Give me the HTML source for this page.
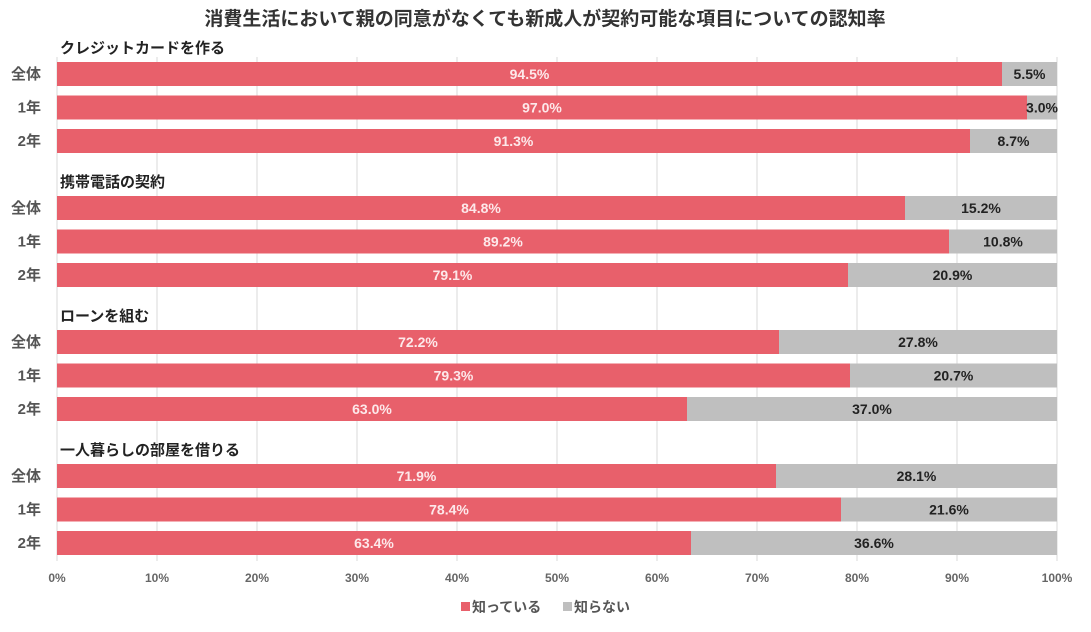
<!DOCTYPE html>
<html><head><meta charset="utf-8"><style>
body{margin:0;background:#fff;}
svg{display:block;font-family:"Liberation Sans","Noto Sans CJK JP",sans-serif;}
</style></head><body>
<svg id="c" width="1091" height="632">
<text x="545" y="25" text-anchor="middle" font-size="19" font-weight="bold" fill="#333">消費生活において親の同意がなくても新成人が契約可能な項目についての認知率</text>
<g id="grid"></g><g id="bars"></g><g id="axis"></g>
<g>
<rect x="461" y="602" width="9" height="9" fill="#e8606b"/>
<text x="472" y="612" font-size="14" font-weight="bold" fill="#555">知っている</text>
<rect x="563" y="602" width="9" height="9" fill="#bfbfbf"/>
<text x="574" y="612" font-size="14" font-weight="bold" fill="#555">知らない</text>
</g>
</svg>
<script>
const groups=["クレジットカードを作る","携帯電話の契約","ローンを組む","一人暮らしの部屋を借りる"];
const rowLabels=["全体","1年","2年"];
const know=[[94.5,97.0,91.3],[84.8,89.2,79.1],[72.2,79.3,63.0],[71.9,78.4,63.4]];
const dontKnow=[[5.5,3.0,8.7],[15.2,10.8,20.9],[27.8,20.7,37.0],[28.1,21.6,36.6]];
const ticks=[0,10,20,30,40,50,60,70,80,90,100];
const NS="http://www.w3.org/2000/svg";
const x0=57,x1=1057;
const xs=v=>x0+(x1-x0)*v/100;
function el(t,a,p,txt){const e=document.createElementNS(NS,t);for(const k in a)e.setAttribute(k,a[k]);if(txt!=null)e.textContent=txt;p.appendChild(e);return e;}
const grid=document.getElementById('grid'),bars=document.getElementById('bars'),axis=document.getElementById('axis');
ticks.forEach(t=>{
 const l=el('line',{x1:xs(t),x2:xs(t),y1:57,y2:561,stroke:'#d9d9d9','stroke-width':1},grid);
 
 
 const tx=el('text',{x:xs(t),y:582,'text-anchor':'middle','font-size':12,'font-weight':'bold',fill:'#666'},axis,t+'%');
 
 
});
groups.forEach((g,gi)=>{
 const base=74+gi*134;
 const h=el('text',{x:60,y:base-21,'font-size':15,'font-weight':'bold',fill:'#222'},bars,g);
 
 
 rowLabels.forEach((r,ri)=>{
  const cy=base+ri*33.5;
  const lb=el('text',{x:41,y:cy+5,'text-anchor':'end','font-size':15,'font-weight':'bold',fill:'#555'},bars,r);
  
  
  const k=know[gi][ri],d=dontKnow[gi][ri];
  const b1=el('rect',{x:xs(0),y:cy-12,width:xs(k)-xs(0),height:24,fill:'#e8606b'},bars);
  
  
  const b2=el('rect',{x:xs(k),y:cy-12,width:xs(k+d)-xs(k),height:24,fill:'#bfbfbf'},bars);
  
  
  const t1=el('text',{x:(xs(0)+xs(k))/2,y:cy+5,'text-anchor':'middle','font-size':14,'font-weight':'bold',fill:'#fde8ea'},bars,k.toFixed(1)+'%');
  
  
  const t2=el('text',{x:(xs(k)+xs(k+d))/2,y:cy+5,'text-anchor':'middle','font-size':14,'font-weight':'bold',fill:'#222'},bars,d.toFixed(1)+'%');
  
  
 });
});
</script>
</body></html>
